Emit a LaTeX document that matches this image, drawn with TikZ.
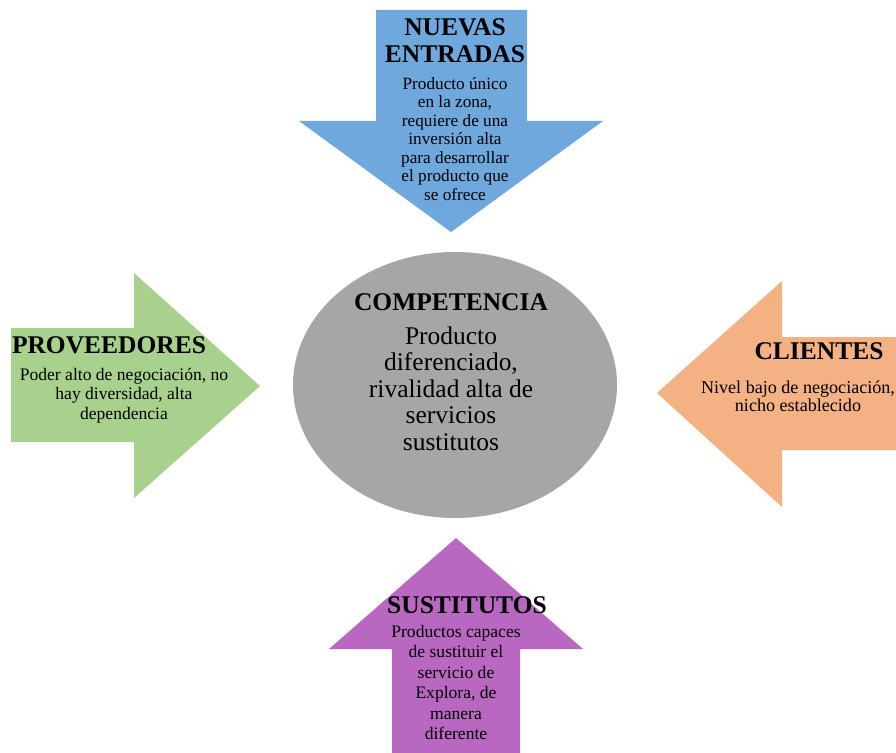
\documentclass[tikz,border=0pt]{standalone}
\usepackage{fontspec}
\setmainfont{Liberation Serif}
\definecolor{nuevasblue}{HTML}{6FA8DC}
\definecolor{provgreen}{HTML}{A9D18E}
\definecolor{clientorange}{HTML}{F4B183}
\definecolor{sustpurple}{HTML}{B968C1}
\definecolor{compgray}{HTML}{A6A6A6}
\tikzset{
  forcearrow/.style={draw=none},
  titletext/.style={inner sep=0pt, anchor=north, align=center, font=\fontsize{14.5}{15.3}\selectfont\bfseries},
  bodytext/.style={inner sep=0pt, anchor=north, align=center, font=\fontsize{10}{10.6}\selectfont},
}
\begin{document}
\begin{tikzpicture}[x=0.02cm,y=-0.02cm]
\useasboundingbox (0,0) rectangle (896,753);
\fill[white] (0,0) rectangle (896,753);

% Arrow pointing down: new entrants
\fill[nuevasblue, forcearrow] (376,10) -- (527,10) -- (527,121) -- (603,121)
  -- (451,232) -- (299,121) -- (376,121) -- cycle;
% Arrow pointing right: suppliers
\fill[provgreen, forcearrow] (11,328) -- (134,328) -- (134,273) -- (260,386)
  -- (134,498) -- (134,442) -- (11,442) -- cycle;
% Arrow pointing left: customers
\fill[clientorange, forcearrow] (896,337) -- (782,337) -- (782,281) -- (657,393)
  -- (782,507) -- (782,450) -- (896,450) -- cycle;
% Arrow pointing up: substitutes
\fill[sustpurple, forcearrow] (392,753) -- (392,649) -- (329,649) -- (456,538)
  -- (583,649) -- (520,649) -- (520,753) -- cycle;

% Central rivalry ellipse
\fill[compgray] (455,385) ellipse [x radius=162, y radius=133];

% Texts
\node[titletext] (ntitle) at (455,18) {NUEVAS\\ENTRADAS};
\node[bodytext, font=\fontsize{9.8}{10.5}\selectfont] (nbody) at (455,77) {Producto único\\en la zona,\\requiere de una\\inversión alta\\para desarrollar\\el producto que\\se ofrece};

\node[titletext] (ctitle) at (451,293) {COMPETENCIA};
\node[inner sep=0pt, anchor=north, align=center, font=\fontsize{14.5}{15.1}\selectfont] (cbody) at (451,326)
  {Producto\\diferenciado,\\rivalidad alta de\\servicios\\sustitutos};

\node[titletext] (ptitle) at (109,336) {PROVEEDORES};
\node[bodytext, font=\fontsize{10}{11}\selectfont] (pbody) at (124,368) {Poder alto de negociación, no\\hay diversidad, alta\\dependencia};

\node[titletext] (cltitle) at (819,342) {CLIENTES};
\node[bodytext, font=\fontsize{10.3}{10}\selectfont] (clbody) at (798,381) {Nivel bajo de negociación,\\nicho establecido};

\node[titletext] (stitle) at (467,596) {SUSTITUTOS};
\node[bodytext, font=\fontsize{10}{11.6}\selectfont] (sbody) at (456,625) {Productos capaces\\de sustituir el\\servicio de\\Explora, de\\manera\\diferente};
\end{tikzpicture}
\end{document}
